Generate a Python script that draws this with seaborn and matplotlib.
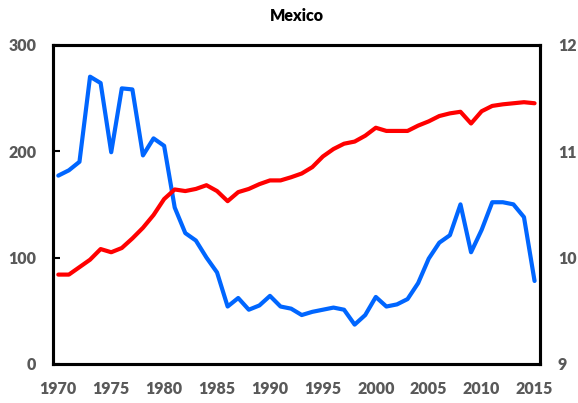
import numpy as np
import pandas as pd
import matplotlib
matplotlib.use("Agg")
import matplotlib.pyplot as plt
import seaborn as sns

# data
years = list(range(1970, 2016))

blue_left = [177, 182, 190, 270, 264, 199, 259, 258, 196, 212,
             205, 147, 123, 116, 100, 86, 54, 62, 51, 55,
             64, 54, 52, 46, 49, 51, 53, 51, 37, 46,
             63, 54, 56, 61, 76, 99, 114, 121, 150, 105,
             126, 152, 152, 150, 138, 78]

red_right = [9.84, 9.84, 9.91, 9.98, 10.08, 10.05, 10.09, 10.18, 10.28, 10.40,
             10.55, 10.64, 10.625, 10.645, 10.68, 10.625, 10.53, 10.615, 10.645, 10.69,
             10.725, 10.725, 10.755, 10.79, 10.85, 10.95, 11.02, 11.07, 11.09, 11.145,
             11.22, 11.19, 11.19, 11.19, 11.24, 11.28, 11.33, 11.355, 11.37, 11.26,
             11.375, 11.425, 11.44, 11.45, 11.46, 11.45]

left_ticks = [0, 100, 200, 300]
right_ticks = [9, 10, 11, 12]
label_years = list(range(1970, 2016, 5))

df = pd.DataFrame({"year": years, "blue": blue_left, "red": red_right})

sns.set_style("white")
plt.rcParams["font.family"] = ["Lato", "DejaVu Sans"]

gray = "#595959"
fig = plt.figure(figsize=(5.78, 4.03), dpi=100)
ax = fig.add_axes([0.0917, 0.0968, 0.8423, 0.7922])
ax2 = ax.twinx()

sns.lineplot(data=df, x="year", y="blue", ax=ax, color="#0066ff", linewidth=3)
sns.lineplot(data=df, x="year", y="red", ax=ax2, color="#ff0000", linewidth=3)

ax.set_xlim(1969.5, 2015.5)
ax.set_ylim(0, 300)
ax2.set_ylim(9, 12)

ax.set_xticks(label_years)
ax.set_xticks([y + 4.5 for y in label_years[:-1]], minor=True)
ax.set_yticks(left_ticks)
ax2.set_yticks(right_ticks)

ax.set_xlabel("")
ax.set_ylabel("")
ax2.set_ylabel("")

ax.tick_params(axis="x", which="major", length=0, pad=12,
               labelsize=11.5, labelcolor=gray)
ax.tick_params(axis="x", which="minor", length=4, width=2,
               direction="in", color="black")
ax.tick_params(axis="y", length=5, width=1.5, direction="in", pad=12,
               labelsize=11.5, labelcolor=gray, color="black")
ax2.tick_params(axis="y", length=0, pad=13, labelsize=11.5, labelcolor=gray)

for lab in ax.get_xticklabels() + ax.get_yticklabels() + ax2.get_yticklabels():
    lab.set_fontweight("heavy")

for a in (ax, ax2):
    for sp in a.spines.values():
        sp.set_color("black")
        sp.set_linewidth(2.2)

ax.set_title("Mexico", fontsize=11.5, fontweight="heavy", color="black", pad=17)

fig.savefig("out.png", dpi=100)
